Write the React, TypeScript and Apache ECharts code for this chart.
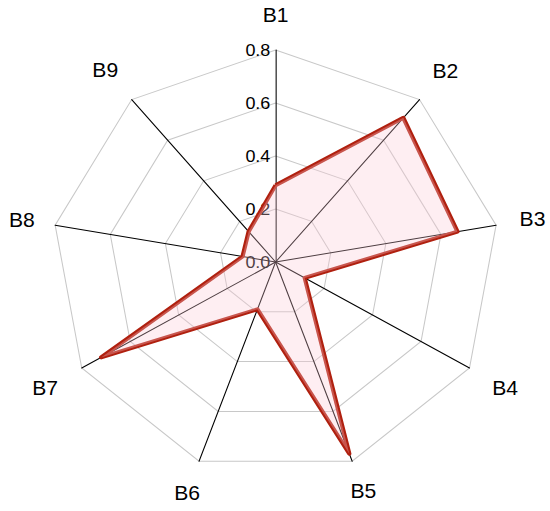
import React, { useEffect, useRef } from "react";
import * as echarts from "echarts";

const categories = ["B1", "B2", "B3", "B4", "B5", "B6", "B7", "B8", "B9"];
const values = [0.29, 0.71, 0.66, 0.12, 0.77, 0.19, 0.72, 0.12, 0.15];
const axisMin = 0;
const axisMax = 0.8;

// Layout only: distance of each category label's centre beyond the outer ring.
const nameGaps = [35, 38, 35, 39, 31, 33, 40, 32, 39];

// The source picture is slightly wider than tall; the chart is drawn in a
// narrower box and stretched horizontally to match.
const STRETCH = 1.056;
const W = 550;
const H = 511;

export default function App() {
  const ref = useRef<HTMLDivElement>(null);
  useEffect(() => {
    if (!ref.current) return;
    const chart = echarts.init(ref.current, null, { renderer: "svg" });
    const font = "'Liberation Sans', Arial, sans-serif";
    // ECharts radar runs counter-clockwise; reverse to get B1..B9 clockwise.
    const order = [0, ...categories.map((_, i) => i).slice(1).reverse()];
    chart.setOption({
      animation: false,
      backgroundColor: "#ffffff",
      radar: {
        center: [261, 262],
        radius: 212,
        startAngle: 90,
        shape: "polygon",
        splitNumber: 4,
        nameGap: 35,
        axisName: {
          color: "#000",
          fontSize: 20,
          fontFamily: font,
          align: "center",
          verticalAlign: "middle",
        },
        splitLine: { lineStyle: { color: "#c8c8c8", width: 1 } },
        splitArea: { show: false },
        axisLine: { lineStyle: { color: "#000", width: 1 } },
        axisTick: { show: false },
        axisLabel: { show: false },
        indicator: order.map((i) => ({
          name: categories[i],
          min: axisMin,
          max: axisMax,
          nameGap: nameGaps[i],
          ...(i === 0
            ? {
                axisLabel: {
                  show: true,
                  margin: 5,
                  fontSize: 17,
                  fontFamily: font,
                  color: "#000",
                  formatter: (v: number) => Number(v).toFixed(1),
                },
              }
            : {}),
        })),
      },
      series: [
        {
          type: "radar",
          symbol: "none",
          data: [
            {
              value: order.map((i) => values[i]),
              lineStyle: { color: "#B0200F", width: 4 },
              areaStyle: { color: "rgba(252, 200, 212, 0.45)" },
            },
          ],
        },
      ],
    });
    return () => chart.dispose();
  }, []);
  return (
    <div
      ref={ref}
      style={{
        position: "fixed",
        left: 0,
        top: 0,
        width: Math.round(W / STRETCH),
        height: H,
        transform: `scaleX(${STRETCH})`,
        transformOrigin: "0 0",
      }}
    />
  );
}
